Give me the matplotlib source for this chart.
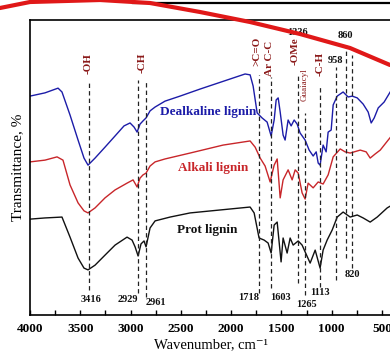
import matplotlib.pyplot as plt
from matplotlib.lines import Line2D
from matplotlib.ticker import MultipleLocator

plt.rcParams['font.family'] = ['Liberation Serif', 'DejaVu Serif']
plt.rcParams['font.weight'] = 'bold'

# spectra (wavenumber cm-1, transmittance %)
wn_blue = [4000, 3851, 3721, 3682, 3602, 3522, 3463, 3423, 3353, 3254, 3154, 3065,
           3005, 2965, 2935, 2906, 2876, 2846, 2806, 2756, 2657, 2508, 2308, 2159,
           2010, 1861, 1811, 1781, 1741, 1692, 1642, 1602, 1572, 1552, 1532, 1512,
           1483, 1463, 1433, 1403, 1373, 1343, 1314, 1264, 1224, 1184, 1154, 1134,
           1115, 1085, 1055, 1035, 1005, 985, 945, 886, 836, 796, 746, 687, 637,
           607, 577, 537, 478, 418]
t_blue = [74.2, 75.3, 76.9, 75.6, 67.8, 59.3, 53.2, 50.8, 53.2, 56.9, 60.7, 64.1,
          65.1, 63.7, 62.0, 64.7, 65.8, 66.8, 69.2, 70.5, 72.5, 74.2, 76.6, 78.3,
          80.0, 81.7, 81.4, 77.6, 68.5, 66.8, 65.4, 60.7, 66.1, 72.9, 73.6, 68.8,
          61.0, 59.3, 66.1, 64.1, 66.1, 64.7, 61.7, 59.3, 55.9, 53.9, 55.3, 51.5,
          50.8, 57.6, 55.3, 62.0, 62.7, 71.2, 74.2, 75.6, 73.9, 74.2, 73.6, 71.5,
          68.8, 65.1, 66.8, 70.2, 72.2, 75.6]

wn_red = [4000, 3851, 3731, 3672, 3602, 3522, 3463, 3423, 3353, 3254, 3154, 3035,
          2975, 2935, 2906, 2876, 2846, 2806, 2756, 2657, 2408, 2080, 1811, 1761,
          1711, 1662, 1612, 1572, 1542, 1512, 1483, 1433, 1393, 1363, 1333, 1294,
          1264, 1234, 1184, 1134, 1085, 1035, 985, 915, 866, 816, 716, 657, 617,
          567, 517, 438, 398]
t_red = [51.9, 52.5, 53.6, 52.5, 44.1, 38.0, 35.3, 34.6, 36.3, 39.7, 42.4, 44.7,
         45.8, 43.4, 46.4, 47.5, 48.1, 50.5, 51.9, 52.9, 54.9, 57.6, 59.0, 56.9,
         53.2, 50.5, 45.1, 50.8, 52.9, 39.7, 45.8, 49.2, 45.8, 49.2, 48.1, 41.4,
         39.3, 44.7, 43.1, 45.1, 44.4, 47.5, 53.6, 56.3, 55.3, 54.9, 55.9, 55.3,
         53.2, 54.6, 55.9, 59.3, 61.0]

wn_black = [4000, 3851, 3682, 3602, 3522, 3463, 3423, 3353, 3254, 3154, 3035, 2985,
            2955, 2925, 2896, 2866, 2846, 2806, 2756, 2607, 2408, 2110, 1811, 1771,
            1722, 1672, 1632, 1602, 1572, 1542, 1503, 1483, 1443, 1413, 1383, 1333,
            1294, 1264, 1214, 1164, 1115, 1085, 1045, 995, 945, 886, 816, 746, 687,
            617, 547, 448, 398]
t_black = [32.5, 32.9, 33.2, 26.4, 19.3, 15.9, 15.3, 16.9, 20.3, 23.7, 26.4, 25.4,
           23.1, 20.0, 24.1, 25.1, 23.1, 29.5, 31.9, 33.2, 34.6, 35.6, 36.6, 34.6,
           26.1, 25.4, 24.4, 21.0, 30.5, 31.5, 18.0, 26.1, 21.0, 26.1, 23.7, 25.1,
           23.7, 21.4, 17.6, 22.0, 15.9, 22.0, 25.4, 28.8, 33.2, 34.9, 33.2, 33.9,
           32.9, 31.5, 33.2, 36.3, 37.3]

# marked bands: position, top, bottom of the dashed guide
band_pos = [3416, 2929, 2850, 1718, 1603, 1336, 1265, 1113, 958, 860, 800]
band_top = [79.7, 79.7, 79.7, 81.4, 80.7, 81.4, 68.5, 78.0, 84.0, 91.5, 88.0]
band_bot = [8.5, 7.5, 6.1, 7.5, 9.2, 10.8, 6.8, 9.5, 11.9, 19.3, 15.9]

group_text = ['-OH', '-CH', '>C=O', 'Ar C-C', '-OMe', 'Guaiacyl', '-C-H']
group_x = [3423, 2886, 1741, 1622, 1363, 1264, 1115]
group_y = [85.4, 85.4, 89.5, 87.0, 89.5, 78.0, 85.0]

num_text = ['3416', '2929', '2961', '1718', '1603', '1265', '1113', '820',
            '1336', '958', '860']
num_x = [3393, 3025, 2746, 1821, 1512, 1254, 1115, 796, 1343, 965, 866]
num_y = [5.1, 5.1, 4.4, 5.8, 5.8, 3.4, 7.5, 13.6, 95.6, 86.4, 94.6]

series_text = ['Dealkaline lignin', 'Alkali lignin', 'Prot lignin']
series_x = [2231, 2181, 2241]
series_y = [68.8, 49.8, 28.8]
series_color = ['#1c1ca8', '#c8262a', '#111111']

# red pen stroke and black strip across the top of the image (figure px)
stroke_x = [0, 30, 100, 150, 200, 250, 300, 350, 390]
stroke_y = [8, 2, 0, 3, 12, 22, 34, 48, 65]

fig = plt.figure(figsize=(3.9, 3.58), dpi=100)
W, H = 390, 358
ax = fig.add_axes([30 / W, 43 / H, 362 / W, 295 / H])

for xs, ys, c in zip([wn_blue, wn_red, wn_black], [t_blue, t_red, t_black], series_color):
    ax.plot(xs, ys, color=c, lw=1.0)

for p, t, b in zip(band_pos, band_top, band_bot):
    ax.plot([p, p], [b, t], color='#222222', lw=0.9, ls=(0, (3.5, 2.5)))

for s, x, y in zip(group_text, group_x, group_y):
    small = s == 'Guaiacyl'
    ax.text(x, y, s, rotation=90, ha='center', va='center', color='#8b1a1a',
            fontsize=6.5 if small else 8, fontweight='normal' if small else 'bold')

for s, x, y in zip(num_text, num_x, num_y):
    ax.text(x, y, s, ha='center', va='center', fontsize=7.5, color='#111111')

for s, x, y, c in zip(series_text, series_x, series_y, series_color):
    ax.text(x, y, s, ha='center', va='center', fontsize=9.5, color=c)

ax.set_xlim(4000, 400)
ax.set_ylim(0, 100)
ax.set_yticks([])
ax.xaxis.set_major_locator(MultipleLocator(500))
ax.xaxis.set_minor_locator(MultipleLocator(250))
ax.tick_params(axis='x', which='both', direction='in', length=3.5, width=1, labelsize=9.5, pad=6)
for sp in ax.spines.values():
    sp.set_linewidth(1.2)
ax.set_xlabel('Wavenumber, cm⁻¹', fontsize=10.5, labelpad=2)
ax.set_ylabel('Transmittance, %', fontsize=11, labelpad=4)

fig.add_artist(Line2D([133 / W, 1], [1 - 2.5 / H, 1 - 2.5 / H], color='black', lw=1.6,
                      transform=fig.transFigure))
fig.add_artist(Line2D([x / W for x in stroke_x], [1 - y / H for y in stroke_y],
                      color='#e01818', lw=3, transform=fig.transFigure, solid_capstyle='round'))

fig.savefig('out.png', dpi=100)
